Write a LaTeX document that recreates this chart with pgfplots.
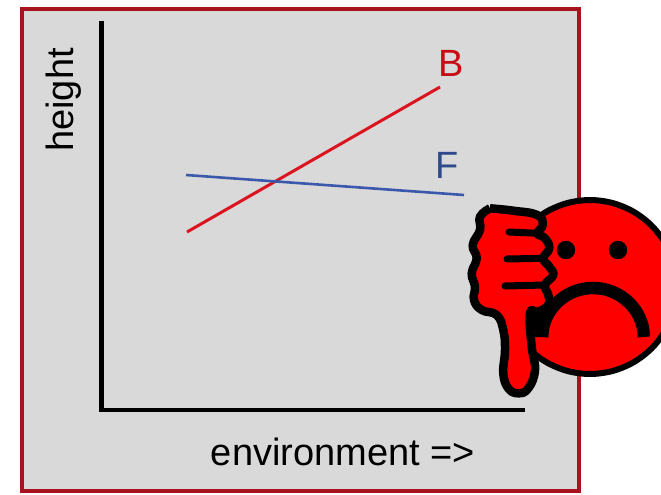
\documentclass[border=0pt]{standalone}
\usepackage{pgfplots}
\pgfplotsset{compat=1.18}
\usepackage{fontspec}
\setmainfont{Liberation Sans}
\definecolor{framered}{HTML}{A8141E}
\definecolor{panel}{HTML}{D9D9D9}
\definecolor{lineB}{HTML}{DC1420}
\definecolor{lineF}{HTML}{3A58AC}
\definecolor{textB}{HTML}{C80C14}
\definecolor{textF}{HTML}{2F4A8C}
\begin{document}
\begin{tikzpicture}
\useasboundingbox (0,0) rectangle (661pt,495pt);
\begin{axis}[
  at={(0,0)}, anchor=south west,
  scale only axis, width=661pt, height=495pt,
  xmin=0, xmax=661, ymin=0, ymax=495, y dir=reverse,
  hide axis, clip=true,
  every axis plot/.append style={line cap=butt, line join=miter},
]
% panel
\addplot[fill=panel, draw=framered, line width=4pt] coordinates {(22,9) (578.5,9) (578.5,491) (22,491) (22,9)} --cycle;
% axes of the sketch
\addplot[black, line width=5pt] coordinates {(101,21) (101,412)};
\addplot[black, line width=4.5pt] coordinates {(99,410) (525,410)};
% series
\addplot[lineB, line width=3pt] coordinates {(187,232) (440,87)};
\addplot[lineF, line width=2.6pt] coordinates {(186,175) (464,195)};
% face
\addplot[fill=red, draw=black, line width=6pt, smooth, tension=0.55] coordinates {
(677,287)(674,309.5)(665.3,330.5)(651.5,348.5)(633.5,362.3)(612.5,371)(590,374)(567.5,371)(546.5,362.3)(528.5,348.5)(514.7,330.5)(506,309.5)(503,287)(506,264.5)(514.7,243.5)(528.5,225.5)(546.5,211.7)(567.5,203)(590,200)(612.5,203)(633.5,211.7)(651.5,225.5)(665.3,243.5)(674,264.5)(677,287)};
% eyes
\addplot[only marks, mark=*, mark size=9pt, mark options={fill=black, draw=none}] coordinates {(566,250) (618,250)};
% mouth
\addplot[black, line width=12.5pt, smooth, tension=0.55] coordinates {
(542,337)(543.7,325.1)(548.8,313)(557,302.6)(567.5,294.7)(579.8,289.7)(593,288)(606.2,289.7)(618.5,294.7)(629,302.6)(637.2,313)(642.3,325.1)(644,337)};
% black wedge by the thumb
\addplot[fill=black, draw=none] coordinates {(531.7,313.3)(553,295)(550,313)(548,337)(535,337)(533,320)} --cycle;
% hand
\addplot[fill=red, draw=black, line width=8.5pt, smooth, tension=0.75, line join=round] coordinates {
(490,208.3)(513.3,210.7)(537.3,215)(542.7,225)(537.3,233.3)(545,238.3)(549.3,248.3)(543.3,258.3)(549.3,266.7)(553.3,275)(545,285)(548.3,295)(548.3,305)(538.3,311.7)(530,313.3)(531.7,346.7)(535,370)(528.3,388.3)(518.3,393.3)(508.3,388.3)(503.3,373.3)(505,350)(503.3,330)(496.7,315)(481.7,310)(474,300)(475,286.7)(471.7,273.3)(476.7,258.3)(472.7,245)(480,230)(480,216.7)(490,208.3)};
\addplot[black, line width=7pt, line cap=round] coordinates {(509,232)(538,233.3)};
\addplot[black, line width=7pt, line cap=round] coordinates {(507,259)(543,258.3)};
\addplot[black, line width=7pt, line cap=round] coordinates {(505,286)(545,285)};
% labels
\node[rotate=90, font=\fontsize{38}{40}\selectfont, text=black, inner sep=0pt, anchor=center] at (axis cs:64,100) {height};
\node[font=\fontsize{38}{40}\selectfont, text=black, inner sep=0pt, anchor=center] at (axis cs:343,452) {environment =>};
\node[font=\fontsize{38}{40}\selectfont, text=textB, inner sep=0pt, anchor=center] at (axis cs:451,63) {B};
\node[font=\fontsize{38}{40}\selectfont, text=textF, inner sep=0pt, anchor=center] at (axis cs:447,165) {F};
\end{axis}
\end{tikzpicture}
\end{document}
